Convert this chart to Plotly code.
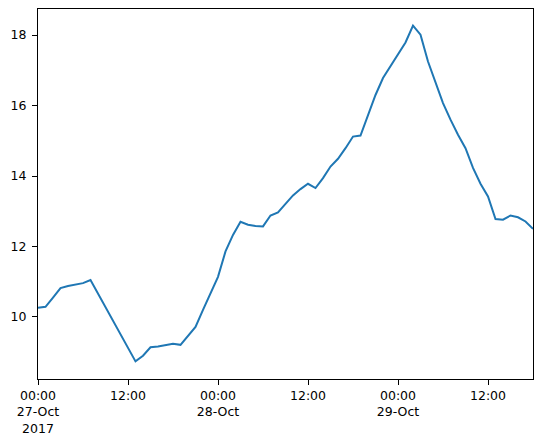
import pandas as pd
import plotly.graph_objects as go

start = "2017-10-27 00:00"
values = [
    10.26, 10.29, 10.55, 10.82, 10.88, 10.92, 10.96, 11.05,
    10.67, 10.28, 9.89, 9.50, 9.15, 8.74, 8.90, 9.14,
    9.16, 9.21, 9.24, 9.21, 9.45, 9.72, 10.20, 10.67,
    11.14, 11.86, 12.33, 12.70, 12.62, 12.58, 12.57, 12.88,
    12.97, 13.21, 13.45, 13.63, 13.78, 13.66, 13.94, 14.27,
    14.49, 14.79, 15.12, 15.15, 15.72, 16.30, 16.78, 17.13,
    17.44, 17.79, 18.27, 18.01, 17.25, 16.68, 16.07, 15.60,
    15.17, 14.79, 14.23, 13.78, 13.42, 12.78, 12.76, 12.88,
    12.83, 12.71, 12.50,
]
times = pd.date_range(start, periods=len(values), freq="h")

tick_times = ["2017-10-27 00:00", "2017-10-27 12:00", "2017-10-28 00:00",
              "2017-10-28 12:00", "2017-10-29 00:00", "2017-10-29 12:00"]
tick_labels = ["00:00<br>27-Oct<br>2017", "12:00", "00:00<br>28-Oct",
               "12:00", "00:00<br>29-Oct", "12:00"]
y_ticks = [10, 12, 14, 16, 18]

fig = go.Figure()
fig.add_trace(go.Scatter(x=times, y=values, mode="lines",
                         line=dict(color="#1f77b4", width=2)))

axis_common = dict(showline=True, mirror=True, linecolor="black", linewidth=1,
                   ticks="outside", ticklen=5, tickcolor="black", tickwidth=1,
                   showgrid=False, zeroline=False, automargin=False,
                   tickfont=dict(family="DejaVu Sans", size=12.5, color="black"))

fig.update_layout(
    width=543, height=445,
    margin=dict(l=38, r=10, t=9, b=66),
    paper_bgcolor="white", plot_bgcolor="white",
    showlegend=False,
    xaxis=dict(range=[times[0], times[-1]], tickmode="array",
               tickvals=tick_times, ticktext=tick_labels, **axis_common),
    yaxis=dict(range=[8.24, 18.74], tickmode="array", tickvals=y_ticks,
               ticktext=[str(v) for v in y_ticks], ticklabelstandoff=3,
               **axis_common),
)

fig.write_html("out.html", config={"displayModeBar": False},
               post_script="document.body.style.margin='0';")
